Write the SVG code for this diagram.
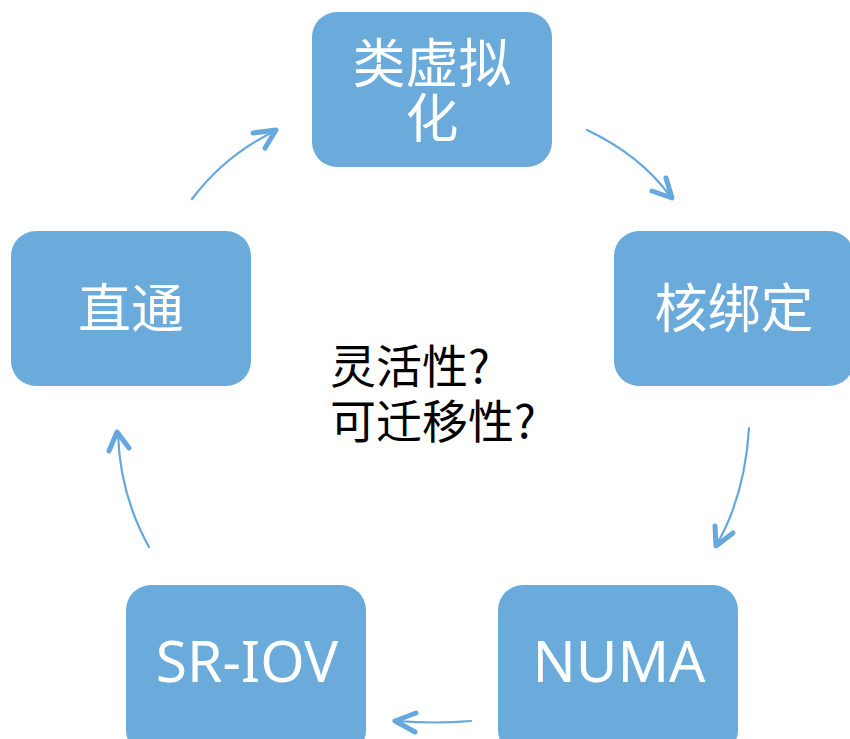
<svg xmlns="http://www.w3.org/2000/svg" width="850" height="739" viewBox="0 0 850 739">
<style>
.box{fill:#6BABDC}
.lbl{fill:#FFFFFF;font-family:"Noto Sans","Noto Sans CJK SC",sans-serif;font-size:53px;text-anchor:middle}
.lat{font-size:57px}
.ctr{fill:#000000;font-family:"Noto Sans CJK SC","Noto Sans",sans-serif;font-size:46px}
.line{fill:none;stroke:#64A8DD;stroke-width:2.2;stroke-linecap:round}
.head{fill:none;stroke:#64A8DD;stroke-width:5;stroke-linecap:round;stroke-linejoin:round}
</style>
<rect width="850" height="739" fill="#FFFFFF"/>
<g id="connectors">
<path class="line" d="M192,199 Q225,155 275,131"/>
<path class="head" d="M253,133 L276,130 L265,148"/>
<path class="line" d="M587,130 Q640,155 670,196"/>
<path class="head" d="M652,191 L672,198 L666,178"/>
<path class="line" d="M749,428 Q745,495 717,544"/>
<path class="head" d="M715,526 L716,546 L733,533"/>
<path class="line" d="M471,721 Q435,724 397,721"/>
<path class="head" d="M416,713 L395,721 L415,732"/>
<path class="line" d="M149,547 Q120,495 118,434"/>
<path class="head" d="M109,451 L117,432 L129,448"/>
</g>
<g id="node-leixuni">
<rect class="box" x="312" y="12" width="240" height="155" rx="25"/>
<text class="lbl"><tspan x="432" y="83">类虚拟</tspan><tspan x="432" y="138">化</tspan></text>
</g>
<g id="node-hebangding">
<rect class="box" x="614" y="231" width="240" height="155" rx="25"/>
<text class="lbl" x="734" y="328">核绑定</text>
</g>
<g id="node-numa">
<rect class="box" x="498" y="585" width="240" height="170" rx="25"/>
<text class="lbl lat" x="619" y="682">NUMA</text>
</g>
<g id="node-sriov">
<rect class="box" x="126" y="585" width="240" height="170" rx="25"/>
<text class="lbl lat" x="247" y="682">SR-IOV</text>
</g>
<g id="node-zhitong">
<rect class="box" x="11" y="231" width="240" height="155" rx="25"/>
<text class="lbl" x="131" y="328">直通</text>
</g>
<g id="center-text">
<text class="ctr"><tspan x="330" y="383">灵活性?</tspan><tspan x="330" y="438">可迁移性?</tspan></text>
</g>
</svg>
